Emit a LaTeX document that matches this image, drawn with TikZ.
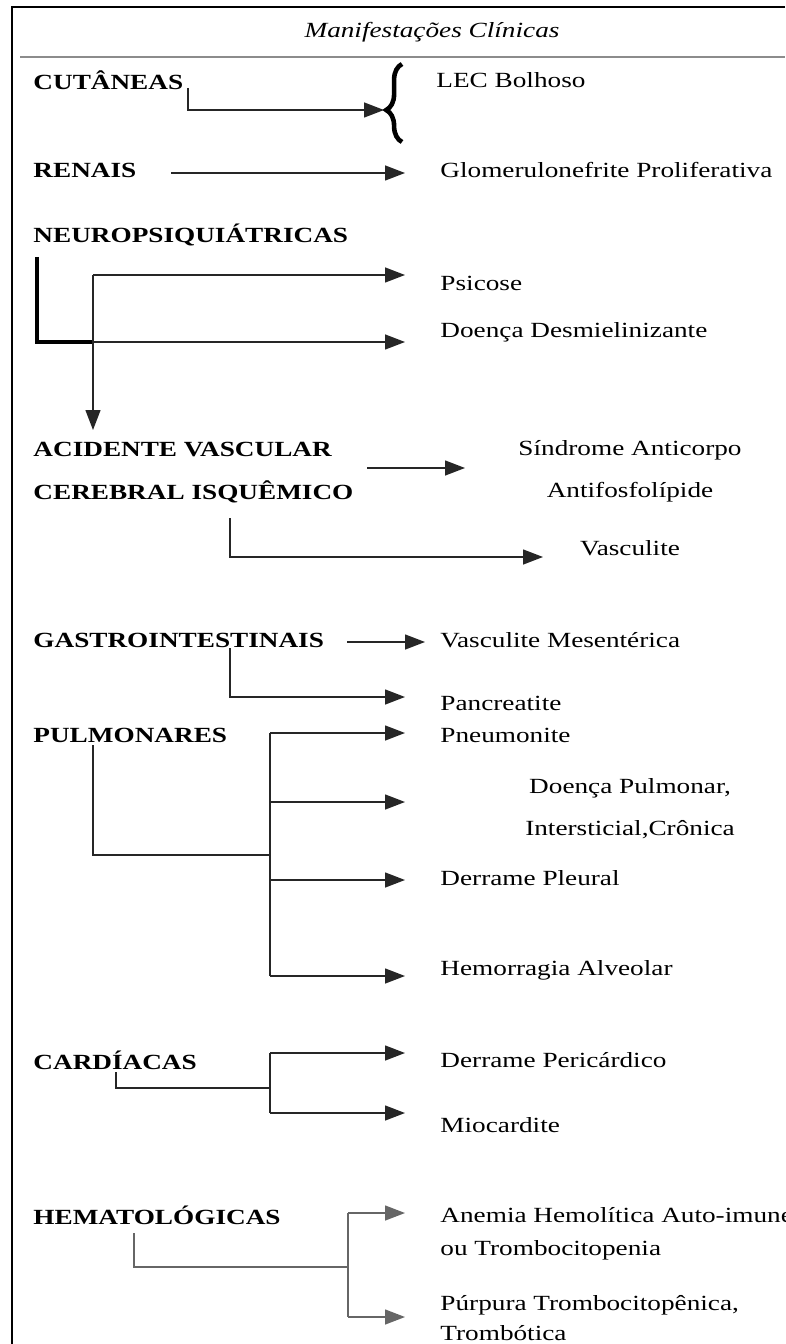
\documentclass[tikz,border=0pt]{standalone}
\usepackage{fontspec}
\setmainfont{Liberation Serif}
\usetikzlibrary{arrows.meta,decorations.pathreplacing}
\tikzset{
  txt/.style={inner sep=0pt, xscale=1.26, transform shape, font=\fontsize{12.3}{14}\selectfont},
  grp/.style={txt, anchor=west, font=\fontsize{12.3}{14}\selectfont\bfseries},
  itm/.style={txt, anchor=west},
  itc/.style={txt},
  lnk/.style={draw=black!85, line width=0.8pt},
  arr/.style={lnk, -{Triangle[length=4mm, width=3mm]}},
}
\begin{document}
\begin{tikzpicture}[x=0.02cm, y=-0.02cm]
  \useasboundingbox (0,0) rectangle (785,1344);
  \draw[line width=1.3pt] (785,7) -- (12,7) -- (12,1344);
  \draw[black!45, line width=0.9pt] (20,57) -- (785,57);
  \node[itc, font=\fontsize{12.3}{14}\selectfont\itshape] (title) at (432,32) {Manifestações Clínicas};

  \node[grp] (cut) at (33,80) {CUTÂNEAS};
  \node[itm] (lec) at (436,80) {LEC Bolhoso};
  \coordinate (cuta) at (188,88);
  \coordinate (tip) at (384,110);
  \draw[arr] (cuta) |- (tip);
  \draw[line width=2.6pt, decorate, decoration={brace, amplitude=9pt, aspect=0.41}]
    (402,142) -- (402,64);

  \node[grp] (ren) at (33,170) {RENAIS};
  \node[itm] (glo) at (440,170) {Glomerulonefrite Proliferativa};
  \coordinate (rena) at (171,173);
  \draw[arr] (rena) -- (405,173);

  \node[grp] (neu) at (33,235) {NEUROPSIQUIÁTRICAS};
  \node[itm] (psi) at (440,283) {Psicose};
  \node[itm] (des) at (440,332) {Doença Desmielinizante};
  \coordinate (neua) at (93,275);
  \coordinate (neub) at (93,342);
  \draw[line width=2.8pt] (37,257) -- (37,342) -- (neub);
  \draw[arr] (neua) -- (405,275);
  \draw[arr] (neub) -- (405,342);
  \draw[arr] (neua) -- (93,430);

  \node[grp] (avc) at (33,450) {ACIDENTE VASCULAR};
  \node[grp] (avcb) at (33,492) {CEREBRAL ISQUÊMICO};
  \node[itc] (saf) at (630,450) {Síndrome Anticorpo};
  \node[itc] (safb) at (630,492) {Antifosfolípide};
  \node[itc] (vas) at (630,548) {Vasculite};
  \coordinate (avca) at (367,468);
  \coordinate (avcc) at (230,518);
  \draw[arr] (avca) -- (465,468);
  \draw[arr] (avcc) |- (543,557);

  \node[grp] (gas) at (33,640) {GASTROINTESTINAIS};
  \node[itm] (mes) at (440,640) {Vasculite Mesentérica};
  \node[itm] (pan) at (440,703) {Pancreatite};
  \coordinate (gasa) at (347,642);
  \coordinate (gasb) at (230,648);
  \draw[arr] (gasa) -- (425,642);
  \draw[arr] (gasb) |- (405,697);

  \node[grp] (pul) at (33,735) {PULMONARES};
  \node[itm] (pne) at (440,735) {Pneumonite};
  \node[itc] (dpc) at (630,788) {Doença Pulmonar,};
  \node[itc] (dpcb) at (630,830) {Intersticial,Crônica};
  \node[itm] (ple) at (440,878) {Derrame Pleural};
  \node[itm] (hal) at (440,970) {Hemorragia Alveolar};
  \coordinate (pula) at (93,745);
  \coordinate (pulb) at (270,855);
  \draw[lnk] (pula) |- (pulb);
  \draw[lnk] (270,733) -- (270,976);
  \foreach \yy in {733,802,880,976}
    \draw[arr] (270,\yy) -- (405,\yy);

  \node[grp] (car) at (33,1060) {CARDÍACAS};
  \node[itm] (per) at (440,1060) {Derrame Pericárdico};
  \node[itm] (mio) at (440,1125) {Miocardite};
  \coordinate (cara) at (116,1072);
  \coordinate (carb) at (270,1088);
  \draw[lnk] (cara) |- (carb);
  \draw[lnk] (270,1053) -- (270,1113);
  \foreach \yy in {1053,1113}
    \draw[arr] (270,\yy) -- (405,\yy);

  \node[grp] (hem) at (33,1215) {HEMATOLÓGICAS};
  \node[itm] (ane) at (440,1215) {Anemia Hemolítica Auto-imune};
  \node[itm] (aneb) at (440,1250) {ou Trombocitopenia};
  \node[itm] (pur) at (440,1305) {Púrpura Trombocitopênica,};
  \node[itm] (purb) at (440,1333) {Trombótica};
  \coordinate (hema) at (134,1233);
  \coordinate (hemb) at (348,1267);
  \draw[lnk, draw=black!60] (hema) |- (hemb);
  \draw[lnk, draw=black!60] (348,1213) -- (348,1317);
  \foreach \yy in {1213,1317}
    \draw[arr, draw=black!60] (348,\yy) -- (405,\yy);
\end{tikzpicture}
\end{document}
